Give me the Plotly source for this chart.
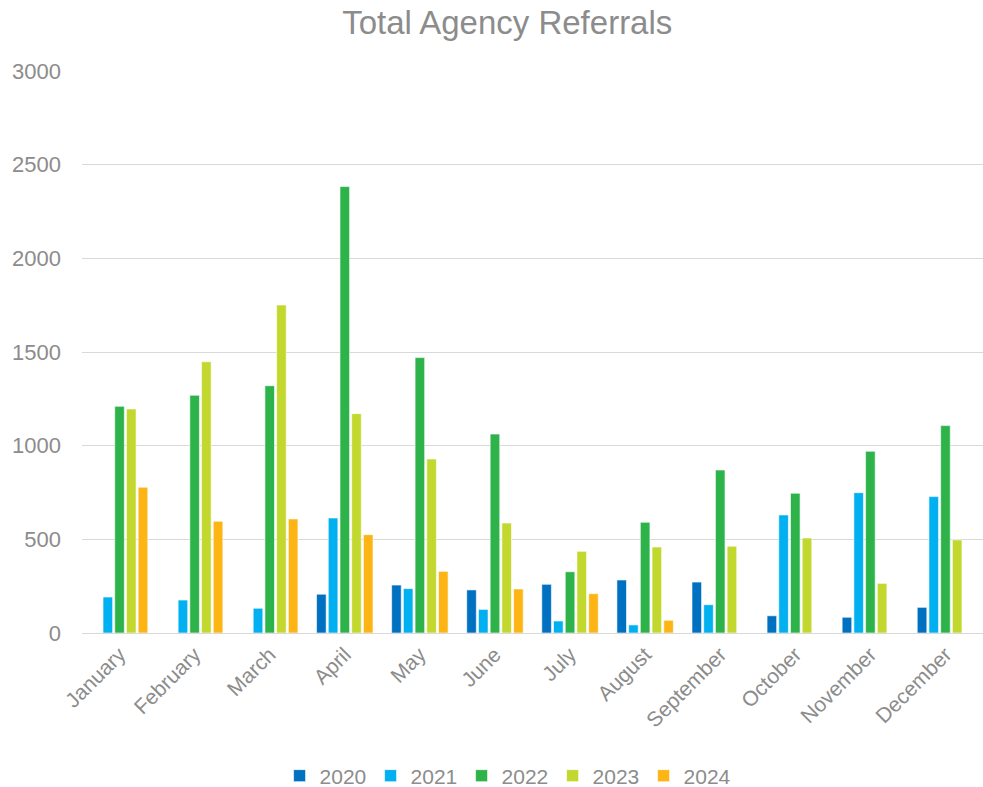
import plotly.graph_objects as go

months = ["January", "February", "March", "April", "May", "June", "July",
          "August", "September", "October", "November", "December"]

y2020 = [None, None, None, 207, 256, 230, 260, 283, 272, 92, 84, 137]
y2021 = [192, 176, 132, 614, 237, 126, 64, 43, 151, 630, 749, 728]
y2022 = [1210, 1269, 1320, 2383, 1470, 1062, 327, 591, 870, 746, 970, 1107]
y2023 = [1196, 1448, 1751, 1171, 929, 587, 436, 459, 463, 507, 265, 497]
y2024 = [778, 596, 609, 525, 329, 235, 210, 68, None, None, None, None]

series = [("2020", y2020, "#0070C0"), ("2021", y2021, "#00B0F0"),
          ("2022", y2022, "#2DB34A"), ("2023", y2023, "#C3D82E"),
          ("2024", y2024, "#FDB515")]

fig = go.Figure()
for name, vals, col in series:
    fig.add_trace(go.Bar(x=months, y=vals, name=name,
                         marker=dict(color=col, line=dict(color="rgba(255,255,255,0.6)", width=1))))

gray = "#8c8c8c"
fig.update_layout(
    width=983, height=787,
    paper_bgcolor="white", plot_bgcolor="white",
    margin=dict(l=82, r=0, t=71, b=154),
    font=dict(family="Liberation Sans, Arial", size=20, color=gray),
    title=dict(text="Total Agency Referrals", x=0.516, xanchor="center",
               yref="container", y=0.971, yanchor="middle",
               font=dict(size=33, color=gray)),
    barmode="group", bargap=0.22, bargroupgap=0.18,
    legend=dict(orientation="h", xref="container", x=0.2844, xanchor="left",
                yref="container", y=0.014, yanchor="middle",
                font=dict(size=21, color=gray), itemwidth=30, traceorder="normal",
                entrywidth=46, entrywidthmode="pixels"),
    showlegend=True,
)
fig.update_yaxes(range=[0, 3000], dtick=500, showgrid=True, gridcolor="#d9d9d9", gridwidth=1,
                 zeroline=True, zerolinecolor="#d9d9d9", zerolinewidth=1, ticks="", ticklabelstandoff=20,
                 automargin=False, tickfont=dict(size=22, color=gray))
fig.update_xaxes(tickangle=-45, showline=True, linecolor="#d9d9d9", automargin=False,
                 tickfont=dict(size=21, color=gray))

fig.write_html("out.html", config={"displayModeBar": False},
               post_script="document.body.style.margin='0';")
